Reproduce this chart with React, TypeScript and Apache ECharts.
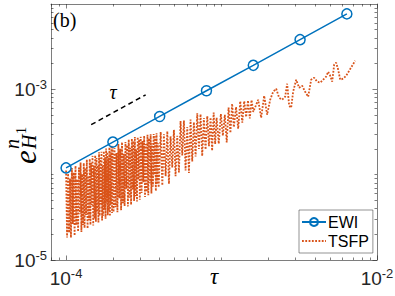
import React, { useEffect, useRef } from 'react';
import * as echarts from 'echarts';

// ---------- data ----------
const ewiTau = [1e-4, 2e-4, 4e-4, 8e-4, 1.6e-3, 3.2e-3, 6.4e-3];
const ewiErr = [1.2e-4, 2.41e-4, 4.81e-4, 9.63e-4, 1.91e-3, 3.82e-3, 7.66e-3];

const tsfpTau = [
  // 1e-4 .. 2e-4
  1.000e-4, 1.015e-4, 1.030e-4, 1.045e-4, 1.060e-4, 1.075e-4, 1.090e-4, 1.105e-4, 1.120e-4, 1.135e-4,
  1.150e-4, 1.165e-4, 1.180e-4, 1.195e-4, 1.210e-4, 1.225e-4, 1.240e-4, 1.255e-4, 1.270e-4, 1.285e-4,
  1.300e-4, 1.315e-4, 1.330e-4, 1.345e-4, 1.360e-4, 1.375e-4, 1.390e-4, 1.405e-4, 1.420e-4, 1.435e-4,
  1.450e-4, 1.465e-4, 1.480e-4, 1.495e-4, 1.510e-4, 1.525e-4, 1.540e-4, 1.555e-4, 1.570e-4, 1.585e-4,
  1.600e-4, 1.615e-4, 1.630e-4, 1.645e-4, 1.660e-4, 1.675e-4, 1.690e-4, 1.705e-4, 1.720e-4, 1.735e-4,
  1.750e-4, 1.765e-4, 1.780e-4, 1.795e-4, 1.810e-4, 1.825e-4, 1.840e-4, 1.855e-4, 1.870e-4, 1.885e-4,
  1.900e-4, 1.915e-4, 1.930e-4, 1.945e-4, 1.960e-4, 1.975e-4, 1.990e-4,
  // 2e-4 .. 4e-4
  2.02e-4, 2.05e-4, 2.08e-4, 2.11e-4, 2.14e-4, 2.17e-4, 2.20e-4, 2.23e-4, 2.26e-4, 2.29e-4,
  2.32e-4, 2.35e-4, 2.38e-4, 2.41e-4, 2.44e-4, 2.47e-4, 2.50e-4, 2.53e-4, 2.56e-4, 2.59e-4,
  2.62e-4, 2.65e-4, 2.68e-4, 2.71e-4, 2.74e-4, 2.77e-4, 2.80e-4, 2.83e-4, 2.86e-4, 2.89e-4,
  2.92e-4, 2.95e-4, 2.98e-4,
  3.02e-4, 3.06e-4, 3.10e-4, 3.14e-4, 3.18e-4, 3.22e-4, 3.26e-4, 3.30e-4, 3.34e-4, 3.38e-4,
  3.42e-4, 3.46e-4, 3.50e-4, 3.54e-4, 3.58e-4, 3.62e-4, 3.66e-4, 3.70e-4, 3.74e-4, 3.78e-4,
  3.82e-4, 3.86e-4, 3.90e-4, 3.94e-4,
  // 4e-4 .. 8e-4
  4.06e-4, 4.16e-4, 4.26e-4, 4.37e-4, 4.48e-4, 4.59e-4, 4.70e-4, 4.82e-4, 4.94e-4, 5.06e-4,
  5.19e-4, 5.32e-4, 5.45e-4, 5.59e-4, 5.73e-4, 5.87e-4, 6.02e-4, 6.17e-4, 6.32e-4, 6.48e-4,
  6.64e-4, 6.81e-4, 6.98e-4, 7.15e-4, 7.33e-4, 7.51e-4, 7.70e-4, 7.89e-4,
  // 8e-4 .. 1.6e-3
  8.1e-4, 8.3e-4, 8.5e-4, 8.7e-4, 8.9e-4, 9.1e-4, 9.3e-4, 9.6e-4, 9.9e-4, 1.02e-3,
  1.05e-3, 1.08e-3, 1.11e-3, 1.14e-3, 1.17e-3, 1.20e-3, 1.24e-3, 1.28e-3, 1.32e-3, 1.36e-3,
  1.40e-3, 1.44e-3, 1.48e-3, 1.52e-3, 1.56e-3, 1.60e-3,
  // 1.6e-3 .. 7.3e-3
  1.72e-3, 1.798e-3, 1.88e-3, 1.965e-3, 2.055e-3, 2.148e-3, 2.246e-3, 2.348e-3, 2.454e-3, 2.566e-3,
  2.643e-3, 2.723e-3, 2.804e-3, 2.888e-3, 3.02e-3, 3.157e-3, 3.30e-3, 3.45e-3, 3.607e-3, 3.771e-3,
  3.942e-3, 4.121e-3, 4.308e-3, 4.504e-3, 4.709e-3, 4.85e-3, 4.999e-3, 5.149e-3, 5.304e-3, 5.464e-3,
  5.628e-3, 5.798e-3, 6.061e-3, 6.337e-3, 6.625e-3, 6.926e-3, 7.241e-3,
];
const tsfpErr = [
  // 1e-4 .. 2e-4
  1.12e-4, 1.83e-5, 1.03e-4, 2.09e-5, 9.0e-5, 1.83e-5, 1.20e-4, 2.65e-5, 1.06e-4, 1.93e-5,
  1.27e-4, 2.56e-5, 8.85e-5, 2.15e-5, 1.21e-4, 3.43e-5, 1.39e-4, 2.13e-5, 1.02e-4, 2.57e-5,
  1.37e-4, 2.37e-5, 1.20e-4, 3.36e-5, 1.50e-4, 2.34e-5, 9.7e-5, 2.95e-5, 1.53e-4, 2.58e-5,
  1.38e-4, 4.4e-5, 1.66e-4, 2.54e-5, 1.28e-4, 3.05e-5, 1.69e-4, 2.8e-5, 1.57e-4, 3.65e-5,
  1.28e-4, 2.75e-5, 1.83e-4, 3.29e-5, 1.58e-4, 4.52e-5, 1.86e-4, 2.9e-5, 1.29e-4, 3.3e-5,
  1.89e-4, 3.88e-5, 1.60e-4, 3.05e-5, 2.03e-4, 4.56e-5, 1.84e-4, 3.34e-5, 1.59e-4, 3.77e-5,
  2.09e-4, 3.26e-5, 1.83e-4, 4.47e-5, 2.20e-4, 3.56e-5, 2.09e-4,
  // 2e-4 .. 4e-4
  3.64e-5, 2.05e-4, 4.16e-5, 1.79e-4, 3.64e-5, 2.28e-4, 5.28e-5, 2.01e-4, 3.84e-5, 2.40e-4,
  4.64e-5, 1.76e-4, 4.28e-5, 2.41e-4, 6.83e-5, 2.22e-4, 4.25e-5, 2.58e-4, 5.38e-5, 2.07e-4,
  4.45e-5, 2.65e-4, 6.7e-5, 2.49e-4, 4.93e-5, 2.77e-4, 5.6e-5, 1.98e-4, 4.86e-5, 2.75e-4,
  8.76e-5, 2.60e-4, 5.07e-5,
  2.78e-4, 6.12e-5, 2.48e-4, 8.16e-5, 2.86e-4, 5.47e-5, 2.28e-4, 6.27e-5, 2.94e-4, 5.75e-5,
  2.67e-4, 7.96e-5, 2.98e-4, 6.02e-5, 2.33e-4, 7.24e-5, 3.00e-4, 9.99e-5, 2.81e-4, 6.43e-5,
  3.06e-4, 7.72e-5, 2.34e-4, 7.09e-5,
  // 4e-4 .. 8e-4
  3.17e-4, 7.49e-5, 2.98e-4, 9.61e-5, 3.23e-4, 7.80e-5, 2.82e-4, 1.21e-4, 3.36e-4, 9.61e-5,
  2.85e-4, 1.06e-4, 4.25e-4, 1.68e-4, 4.30e-4, 1.12e-4, 3.61e-4, 1.05e-4, 4.42e-4, 1.43e-4,
  4.12e-4, 1.63e-4, 5.24e-4, 2.00e-4, 5.13e-4, 1.65e-4, 4.62e-4, 1.97e-4,
  // 8e-4 .. 1.6e-3
  4.86e-4, 2.16e-4, 4.68e-4, 1.91e-4, 5.34e-4, 2.28e-4, 4.65e-4, 2.30e-4, 5.15e-4, 2.86e-4,
  5.04e-4, 2.38e-4, 6.11e-4, 3.08e-4, 6.79e-4, 3.60e-4, 6.20e-4, 3.46e-4, 7.26e-4, 4.08e-4,
  7.28e-4, 4.75e-4, 7.40e-4, 4.56e-4, 7.49e-4, 5.44e-4,
  // 1.6e-3 .. 7.3e-3
  7.55e-4, 4.64e-4, 8.41e-4, 5.04e-4, 7.55e-4, 9.37e-4, 1.016e-3, 7.97e-4, 7.55e-4, 8.19e-4,
  1.163e-3, 6.42e-4, 6.08e-4, 9.37e-4, 1.296e-3, 1.044e-3, 1.102e-3, 9.37e-4, 8.19e-4, 1.296e-3,
  1.368e-3, 1.228e-3, 1.195e-3, 1.296e-3, 1.406e-3, 1.609e-3, 1.444e-3, 1.228e-3, 1.944e-3, 2.052e-3,
  1.698e-3, 1.296e-3, 1.332e-3, 1.444e-3, 1.653e-3, 1.892e-3, 2.166e-3,
];

const refTau = [1.45e-4, 3.25e-4];
const refErr = [3.85e-4, 8.63e-4];

const xRange = [8e-5, 1e-2];
const yRange = [1e-5, 1e-2];
const xMajor = [1e-4, 1e-2];
const xMinor = [8e-5, 9e-5, 2e-4, 3e-4, 4e-4, 5e-4, 6e-4, 7e-4, 8e-4, 9e-4, 1e-3,
  2e-3, 3e-3, 4e-3, 5e-3, 6e-3, 7e-3, 8e-3, 9e-3];
const yMajor = [1e-5, 1e-3];
const yMinor = [2e-5, 3e-5, 4e-5, 5e-5, 6e-5, 7e-5, 8e-5, 9e-5, 1e-4,
  2e-4, 3e-4, 4e-4, 5e-4, 6e-4, 7e-4, 8e-4, 9e-4,
  2e-3, 3e-3, 4e-3, 5e-3, 6e-3, 7e-3, 8e-3, 9e-3];

const SANS = '"Liberation Sans", Arial, Helvetica, sans-serif';
const SERIF = '"Liberation Serif", "DejaVu Serif", serif';
const AX = '#262626';
const BLUE = '#0072BD';
const ORANGE = '#D95319';

const L = Math.log10;
const pts = (xs: number[], ys: number[]) => xs.map((x, i) => [L(x), L(ys[i])]);

const labelRich = {
  b: { fontSize: 19, fontFamily: SANS, color: AX, lineHeight: 22 },
  s: { fontSize: 13, fontFamily: SANS, color: AX, padding: [0, 0, 10, 0] },
};
const fmt = (v: number) => `{b|10}{s|${Math.round(v)}}`;

function xAxisDef(pos: 'top' | 'bottom', minor: boolean, labels: boolean): any {
  return {
    type: 'value', gridIndex: 0, position: pos,
    min: L(xRange[0]), max: L(xRange[1]),
    splitLine: { show: false },
    axisLine: { show: !minor, onZero: false, lineStyle: { color: AX, width: 0.6 } },
    axisTick: {
      show: true, inside: true, length: minor ? 2.5 : 4.5,
      customValues: (minor ? xMinor : xMajor).map(L),
      lineStyle: { color: AX, width: 0.6 },
    },
    axisLabel: labels
      ? { show: true, customValues: xMajor.map(L), margin: 7, formatter: fmt, rich: labelRich }
      : { show: false },
  };
}
function yAxisDef(pos: 'left' | 'right', minor: boolean, labels: boolean): any {
  return {
    type: 'value', gridIndex: 0, position: pos,
    min: L(yRange[0]), max: L(yRange[1]),
    splitLine: { show: false },
    axisLine: { show: !minor, onZero: false, lineStyle: { color: AX, width: 0.6 } },
    axisTick: {
      show: true, inside: true, length: minor ? 2.5 : 4.5,
      customValues: (minor ? yMinor : yMajor).map(L),
      lineStyle: { color: AX, width: 0.6 },
    },
    axisLabel: labels
      ? { show: true, customValues: yMajor.map(L), margin: 4, formatter: fmt, rich: labelRich }
      : { show: false },
  };
}

const txt = (text: string, font: string, extra: any = {}) => ({
  text, font, fill: '#000',
  textVerticalAlign: 'middle', verticalAlign: 'middle',
  ...extra,
});

export default function App() {
  const ref = useRef<HTMLDivElement>(null);
  useEffect(() => {
    const chart = echarts.init(ref.current!, null, { renderer: 'svg' });
    const option: any = {
      animation: false,
      backgroundColor: '#fff',
      grid: { left: 51, top: 4, right: 18, bottom: 36, containLabel: false, outerBoundsMode: 'none' },
      xAxis: [
        xAxisDef('bottom', false, true),
        xAxisDef('bottom', true, false),
        xAxisDef('top', false, false),
        xAxisDef('top', true, false),
      ],
      yAxis: [
        yAxisDef('left', false, true),
        yAxisDef('left', true, false),
        yAxisDef('right', false, false),
        yAxisDef('right', true, false),
      ],
      legend: {
        data: ['EWI', 'TSFP'],
        orient: 'vertical', left: 299, top: 210,
        itemWidth: 24, itemHeight: 10, itemGap: 3,
        padding: [4, 4, 4, 2],
        borderColor: AX, borderWidth: 0.5, backgroundColor: '#fff',
        selectedMode: false,
        textStyle: { fontFamily: SANS, fontSize: 16, color: '#000', padding: [0, 0, 0, -3] },
      },
      series: [
        {
          name: 'TSFP', type: 'line', xAxisIndex: 0, yAxisIndex: 0,
          data: pts(tsfpTau, tsfpErr), symbol: 'none', showSymbol: false, silent: true, z: 2,
          color: ORANGE,
          itemStyle: { color: 'rgba(0,0,0,0)', borderWidth: 0 },
          lineStyle: { color: ORANGE, width: 1.8, type: [1.8, 1.5] },
        },
        {
          name: 'EWI', type: 'line', xAxisIndex: 0, yAxisIndex: 0,
          data: pts(ewiTau, ewiErr), symbol: 'circle', symbolSize: 10, silent: true, z: 3,
          color: BLUE,
          lineStyle: { color: BLUE, width: 1.5 },
          itemStyle: { color: 'rgba(0,0,0,0)', borderColor: BLUE, borderWidth: 1.5 },
        },
        {
          name: 'ref', type: 'line', xAxisIndex: 0, yAxisIndex: 0,
          data: pts(refTau, refErr), symbol: 'none', silent: true, z: 3,
          lineStyle: { color: '#000', width: 1.5, type: [5, 3.5] },
        },
      ],
      graphic: [
        { type: 'text', x: 53, y: 20, style: txt('(b)', `20px ${SERIF}`) },
        { type: 'text', x: 113, y: 92, style: txt('τ', `italic 20px ${SERIF}`, { textAlign: 'center', align: 'center' }) },
        { type: 'text', x: 214, y: 276, style: txt('τ', `italic 23px ${SERIF}`, { textAlign: 'center', align: 'center' }) },
        {
          type: 'group', x: 31, y: 164, rotation: Math.PI / 2,
          children: [
            { type: 'text', x: 0, y: -6, style: txt('e', `italic 31px ${SERIF}`) },
            { type: 'text', x: 15, y: -19, style: txt('n', `italic 20px ${SERIF}`) },
            { type: 'text', x: 15, y: -2, style: txt('H', `italic 20px ${SERIF}`) },
            { type: 'text', x: 30, y: -10, style: txt('1', `14px ${SERIF}`) },
          ],
        },
      ],
    };
    chart.setOption(option);
    return () => chart.dispose();
  }, []);
  return <div ref={ref} style={{ position: 'fixed', left: 0, top: 0, width: 395, height: 296, background: '#fff' }} />;
}
